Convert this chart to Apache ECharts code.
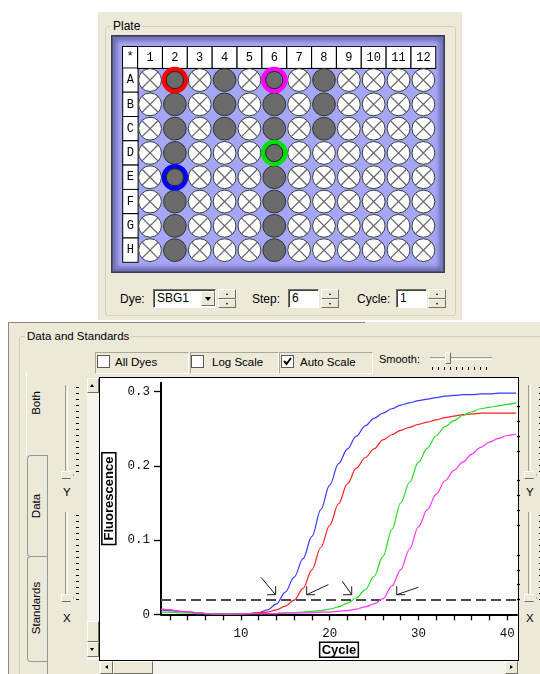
<!DOCTYPE html>
<html><head><meta charset="utf-8">
<script src="https://cdn.jsdelivr.net/npm/echarts@6/dist/echarts.min.js"></script>
<style>
html,body{margin:0;padding:0;width:540px;height:674px;overflow:hidden;background:#fff;font-family:"Liberation Sans",Arial,sans-serif;font-size:11.5px;color:#000;}
div{box-sizing:border-box;}
.a{position:absolute;}
.lbl{position:absolute;line-height:14px;white-space:nowrap;}
.btn{position:absolute;background:#ece9d8;border:1px solid;border-color:#fff #716f64 #716f64 #fff;}
.spin{position:absolute;width:18px;height:19px;}
.spin div{position:absolute;left:0;width:18px;height:9.5px;background:#ece9d8;border:1px solid;border-color:#fff #716f64 #716f64 #fff;}
.spin .u{top:0}.spin .d{top:9.5px}
.spin .u::after{content:"";position:absolute;left:6.5px;top:2.5px;border-left:1.5px solid transparent;border-right:1.5px solid transparent;border-bottom:2px solid #000;}
.spin .d::after{content:"";position:absolute;left:6.5px;top:3px;border-left:1.5px solid transparent;border-right:1.5px solid transparent;border-top:2px solid #000;}
.tri{position:absolute;width:0;height:0;border-left:2.5px solid transparent;border-right:2.5px solid transparent;}
.edit{position:absolute;height:19px;background:#fff;border:1px solid;border-color:#716f64 #fff #fff #716f64;box-shadow:inset 1px 1px 0 #404040;font-size:12px;line-height:17px;padding-left:3px;}
.cell{position:absolute;top:352px;height:22px;border:1px solid;border-color:#aca899 #fff #fff #aca899;}
.cb{position:absolute;top:355px;width:13px;height:13px;background:#fff;border:1px solid #5a5a5a;}
.vtab{position:absolute;transform:rotate(-90deg);transform-origin:center center;white-space:nowrap;font-size:11.5px;line-height:14px;}
.track{position:absolute;width:3px;border-left:1px solid #9d9d93;border-right:1px solid #fff;}
.ticksV{position:absolute;width:3px;background:repeating-linear-gradient(to bottom,#000 0 1px,transparent 1px 6px);}
.thumb{position:absolute;width:13px;height:8px;background:#ece9d8;border:1px solid;border-color:#fff #716f64 #716f64 #fff;clip-path:polygon(0 0,70% 0,100% 50%,70% 100%,0 100%);}
#chart{position:absolute;left:0;top:0;width:540px;height:674px;z-index:10;pointer-events:none;}
</style></head><body>
<!-- top plate panel -->
<div class="a" style="left:98px;top:12px;width:364px;height:308px;background:#ece9d8;"></div>
<div class="a" style="left:105px;top:26px;width:351px;height:290px;border:1px solid #d0d0bf;border-radius:3px;"></div>
<div class="lbl" style="left:111px;top:19px;padding:0 2px;background:#ece9d8;font-size:12px;">Plate</div>
<div class="a" style="left:111px;top:35px;width:334px;height:238px;background:#a6a6f6;border:1px solid #3b3b55;box-shadow:inset 0 0 0 1px #50507a,inset 0 0 4px 5px #7070b4;"></div>
<div class="a" style="left:122px;top:46px;width:16px;height:23px;background:#fff;border:1px solid #000;font-family:'Liberation Mono',monospace;font-size:12px;text-align:center;line-height:20px;">*</div>
<!-- plate controls -->
<div class="lbl" style="left:120px;top:292px;font-size:12px;">Dye:</div>
<div class="edit" style="left:153px;top:289px;width:63px;">SBG1</div>
<div class="btn" style="left:201px;top:291px;width:14px;height:15px;"><div class="tri" style="left:3px;top:5px;border-left-width:3.5px;border-right-width:3.5px;border-top:4px solid #000;"></div></div>
<div class="spin" style="left:218px;top:289px;"><div class="u"></div><div class="d"></div></div>
<div class="lbl" style="left:252px;top:292px;font-size:12px;">Step:</div>
<div class="edit" style="left:288px;top:289px;width:31px;">6</div>
<div class="spin" style="left:321px;top:289px;"><div class="u"></div><div class="d"></div></div>
<div class="lbl" style="left:357px;top:292px;font-size:12px;">Cycle:</div>
<div class="edit" style="left:396px;top:289px;width:31px;">1</div>
<div class="spin" style="left:428px;top:289px;"><div class="u"></div><div class="d"></div></div>

<!-- bottom data panel -->
<div class="a" style="left:8px;top:322px;width:532px;height:352px;background:#ece9d8;border-left:1px solid #8a8a80;"></div>
<div class="a" style="left:8px;top:322px;width:357px;height:1px;background:#8a8a80;"></div>
<div class="a" style="left:19px;top:336px;width:530px;height:350px;border:1px solid #d0d0bf;border-radius:3px;"></div>
<div class="lbl" style="left:25px;top:329px;padding:0 2px;background:#ece9d8;">Data and Standards</div>
<!-- check cells -->
<div class="cell" style="left:95px;width:94px;"></div>
<div class="cell" style="left:190px;width:89px;"></div>
<div class="cell" style="left:279px;width:94px;"></div>
<div class="cb" style="left:97px;"></div><div class="lbl" style="left:115px;top:355px;">All Dyes</div>
<div class="cb" style="left:191px;"></div><div class="lbl" style="left:212px;top:355px;">Log Scale</div>
<div class="cb" style="left:281px;"><svg width="11" height="11" style="position:absolute;left:0;top:0"><polyline points="2,5 4.5,8 9,2" fill="none" stroke="#000" stroke-width="2"/></svg></div><div class="lbl" style="left:300px;top:355px;">Auto Scale</div>
<div class="lbl" style="left:379px;top:352px;font-size:11px;">Smooth:</div>
<div class="a" style="left:430px;top:357px;width:62px;height:3px;border-top:1px solid #9d9d93;border-bottom:1px solid #fff;"></div>
<div class="a" style="left:445px;top:352px;width:6px;height:12px;background:#ece9d8;border:1px solid;border-color:#fff #716f64 #716f64 #fff;"></div>
<div class="a" style="left:432px;top:367px;width:60px;height:3px;background:repeating-linear-gradient(to right,#000 0 1px,transparent 1px 6px);"></div>

<!-- vertical tabs -->
<div class="a" style="left:26px;top:372px;width:22px;height:84px;border-left:1px solid #fff;"></div>
<div class="a" style="left:27px;top:455px;width:21px;height:102px;border:1px solid #919b9c;border-right:none;border-radius:4px 0 0 4px;"></div>
<div class="a" style="left:27px;top:556px;width:21px;height:106px;border:1px solid #919b9c;border-right:none;border-radius:4px 0 0 4px;"></div>
<div class="a" style="left:47px;top:455px;width:1px;height:219px;background:#919b9c;"></div>
<div class="vtab" style="left:21px;top:396px;width:30px;text-align:center;">Both</div>
<div class="vtab" style="left:16px;top:499px;width:40px;text-align:center;">Data</div>
<div class="vtab" style="left:2px;top:601px;width:68px;text-align:center;">Standards</div>

<!-- left sliders -->
<div class="track" style="left:65px;top:385px;height:91px;"></div>
<div class="ticksV" style="left:76px;top:387px;height:90px;"></div>
<div class="thumb" style="left:61px;top:471px;"></div>
<div class="lbl" style="left:63px;top:485px;">Y</div>
<div class="track" style="left:65px;top:512px;height:88px;"></div>
<div class="ticksV" style="left:76px;top:515px;height:87px;"></div>
<div class="thumb" style="left:61px;top:594px;"></div>
<div class="lbl" style="left:63px;top:611px;">X</div>
<!-- right sliders -->
<div class="track" style="left:528px;top:385px;height:91px;"></div>
<div class="ticksV" style="left:539px;top:387px;height:90px;"></div>
<div class="thumb" style="left:524px;top:471px;"></div>
<div class="lbl" style="left:526px;top:485px;">Y</div>
<div class="track" style="left:528px;top:512px;height:88px;"></div>
<div class="ticksV" style="left:539px;top:515px;height:87px;"></div>
<div class="thumb" style="left:524px;top:594px;"></div>
<div class="lbl" style="left:526px;top:611px;">X</div>

<!-- scrollbars -->
<div class="a" style="left:87px;top:378px;width:12px;height:282px;background:#f4f3ee;"></div>
<div class="btn" style="left:87px;top:378px;width:12px;height:15px;"><div class="tri" style="left:2px;top:5px;border-bottom:3px solid #000;"></div></div>
<div class="btn" style="left:87px;top:621px;width:12px;height:21px;"></div>
<div class="btn" style="left:87px;top:642px;width:12px;height:15px;"><div class="tri" style="left:2px;top:5px;border-top:3px solid #000;"></div></div>
<div class="a" style="left:99px;top:660px;width:420px;height:14px;background:#f4f3ee;"></div>
<div class="btn" style="left:100px;top:661px;width:13px;height:13px;"><div class="tri" style="left:4px;top:2.5px;border:2.5px solid transparent;border-right:3px solid #000;border-left:none;"></div></div>
<div class="btn" style="left:113px;top:661px;width:40px;height:13px;"></div>
<div class="btn" style="left:505px;top:661px;width:13px;height:13px;"><div class="tri" style="left:4px;top:2.5px;border:2.5px solid transparent;border-left:3px solid #000;border-right:none;"></div></div>

<!-- chart box -->
<div class="a" style="left:99px;top:377px;width:420px;height:284px;background:#fff;border:1px solid #000;"></div>

<div id="chart"></div>
<script>
// ---- plate data ----
const plateColumns = ['1','2','3','4','5','6','7','8','9','10','11','12'];
const plateRows = ['A','B','C','D','E','F','G','H'];
const usedWells = ['A2','B2','C2','D2','E2','F2','G2','H2',
                   'A4','B4','C4',
                   'A6','B6','C6','D6','E6','F6','G6','H6',
                   'A8','B8','C8'];
const highlightWells = ['A2','A6','D6','E2'];
const highlightColors = ['#ff0000','#ff00ff','#00e000','#0000ff'];

// ---- amplification data ----
const cycles = [1,2,3,4,5,6,7,8,9,10,11,12,13,14,15,16,17,18,19,20,21,22,23,24,25,26,27,28,29,30,31,32,33,34,35,36,37,38,39,40,41];
const blueValues = [0.006,0.005,0.004,0.003,0.002,0.001,0.001,0.0005,0.0005,0.001,0.001,0.002,0.006,0.014,0.030,0.050,0.075,0.105,0.141,0.174,0.203,0.223,0.240,0.254,0.264,0.271,0.277,0.282,0.285,0.288,0.290,0.292,0.294,0.295,0.296,0.296,0.297,0.297,0.298,0.298,0.298];
const redValues = [0.007,0.006,0.004,0.003,0.002,0.001,0.0005,0.0003,0.0003,0.0005,0.001,0.002,0.003,0.006,0.011,0.019,0.035,0.060,0.090,0.120,0.149,0.176,0.197,0.211,0.223,0.235,0.242,0.248,0.252,0.256,0.259,0.262,0.265,0.267,0.269,0.270,0.271,0.271,0.271,0.271,0.271];
const greenValues = [0.003,0.003,0.002,0.002,0.001,0.001,0.0005,0.0005,0.0005,0.0005,0.001,0.001,0.001,0.001,0.002,0.002,0.003,0.004,0.005,0.007,0.010,0.015,0.022,0.033,0.051,0.078,0.114,0.150,0.178,0.205,0.224,0.241,0.253,0.261,0.268,0.273,0.277,0.279,0.281,0.283,0.285];
const magentaValues = [0.007,0.006,0.004,0.003,0.002,0.001,0.0005,0.0003,0.0003,0.0005,0.001,0.001,0.001,0.001,0.002,0.002,0.002,0.002,0.003,0.003,0.004,0.005,0.007,0.010,0.014,0.021,0.038,0.060,0.088,0.118,0.141,0.162,0.180,0.194,0.205,0.216,0.225,0.232,0.237,0.241,0.243];
const seriesColors = ['#3a3aff','#ff2020','#22dd22','#ff33ff'];
const threshold = 0.02;
// arrows: [tailCycle, tailValue] -> [tipCycle, tipValue]
const arrowTails = [[12.25,0.050],[19.85,0.040],[21.42,0.0445],[29.99,0.0364]];
const arrowTips = [[13.91,0.0264],[17.41,0.0264],[22.48,0.0264],[27.55,0.0264]];
const xTickValues = [2,4,6,8,10,12,14,16,18,20,22,24,26,28,30,32,34,36,38,40];
const xLabelValues = [10,20,30,40];
const yLabelValues = [0,0.1,0.2,0.3];
const yMinorTickValues = [0.02,0.04,0.06,0.08,0.12,0.14,0.16,0.18,0.22,0.24,0.26,0.28];

// ---- build ----
const wellData = [];
plateRows.forEach((r, ri) => plateColumns.forEach((c, ci) => {
  wellData.push([ci, ri, usedWells.indexOf(r + c) >= 0 ? 1 : 0]);
}));
const ringData = highlightWells.map((w, i) => [plateColumns.indexOf(w.slice(1)), plateRows.indexOf(w[0]), i]);

function renderWell(params, api) {
  const p = api.coord([api.value(0), api.value(1)]);
  const r = 11.4;
  if (api.value(2)) {
    return {type:'circle', shape:{cx:p[0], cy:p[1], r:r}, style:{fill:'#6b6b6b', stroke:'#333', lineWidth:1}};
  }
  const d = r * 0.72;
  return {type:'group', children:[
    {type:'circle', shape:{cx:p[0], cy:p[1], r:r}, style:{fill:'#fff', stroke:'#3a3a3a', lineWidth:1}},
    {type:'line', shape:{x1:p[0]-d, y1:p[1]-d, x2:p[0]+d, y2:p[1]+d}, style:{stroke:'#6a6a6a', lineWidth:1.3}},
    {type:'line', shape:{x1:p[0]-d, y1:p[1]+d, x2:p[0]+d, y2:p[1]-d}, style:{stroke:'#6a6a6a', lineWidth:1.3}}
  ]};
}
function renderRing(params, api) {
  const p = api.coord([api.value(0), api.value(1)]);
  const col = highlightColors[api.value(2)];
  return {type:'group', children:[
    {type:'circle', shape:{cx:p[0], cy:p[1], r:11}, style:{fill:'none', stroke:col, lineWidth:4.6}},
    {type:'circle', shape:{cx:p[0], cy:p[1], r:8.6}, style:{fill:'none', stroke:'#222', lineWidth:1}}
  ]};
}
function renderArrow(params, api) {
  const t = api.coord([api.value(0), api.value(1)]);
  const h = api.coord([api.value(2), api.value(3)]);
  const dir = t[0] < h[0] ? -1 : 1;
  const s = {stroke:'#1a1a1a', lineWidth:1};
  return {type:'group', children:[
    {type:'line', shape:{x1:t[0], y1:t[1], x2:h[0], y2:h[1]}, style:s},
    {type:'line', shape:{x1:h[0], y1:h[1], x2:h[0], y2:h[1]-8.5}, style:s},
    {type:'line', shape:{x1:h[0], y1:h[1], x2:h[0]+dir*8.5, y2:h[1]}, style:s}
  ]};
}
const arrowData = arrowTails.map((t, i) => [t[0], t[1], arrowTips[i][0], arrowTips[i][1]]);

const monoFont = "'Liberation Mono','Courier New',monospace";
const curveNames = ['E2','A2','D6','A6'];
const curveValues = [blueValues, redValues, greenValues, magentaValues];

const lineSeries = curveValues.map((vals, i) => ({
  type:'line', name:curveNames[i], xAxisIndex:1, yAxisIndex:1,
  data: cycles.map((c, k) => [c, vals[k]]),
  showSymbol:false, smooth:0.35, smoothMonotone:'x',
  lineStyle:{color:seriesColors[i], width:1.2}, z:3,
  markLine: i === 0 ? {silent:true, symbol:['none','none'], label:{show:false},
    lineStyle:{type:[10,5], color:'#4a4a4a', width:2}, data:[{yAxis:threshold}], z:2} : undefined
}));

const chart = echarts.init(document.getElementById('chart'), null, {width:540, height:674});
chart.setOption({
  animation:false,
  backgroundColor:'transparent',
  grid:[
    {left:137.6, top:67.9, width:298.2, height:194.4},
    {left:161, top:382.8, width:356, height:231.5}
  ],
  xAxis:[
    {gridIndex:0, type:'category', data:plateColumns, position:'top',
     axisLine:{show:false}, axisTick:{show:false}, splitLine:{show:false},
     axisLabel:{interval:0, margin:0, formatter:v => '{c|' + v + '}',
       rich:{c:{width:23.7, height:21, lineHeight:21, align:'center', fontFamily:monoFont, fontSize:12, color:'#000',
         backgroundColor:'#fff', borderColor:'#000', borderWidth:1}}}},
    {gridIndex:1, type:'value', min:1, max:41.1,
     axisLine:{onZero:false, lineStyle:{color:'#000', width:2}},
     axisTick:{customValues:xTickValues, length:6, lineStyle:{color:'#000', width:1.3}},
     axisLabel:{customValues:xLabelValues, margin:13, fontFamily:monoFont, fontSize:12.5, color:'#111'},
     splitLine:{show:false},
     name:'Cycle', nameLocation:'middle', nameGap:28,
     nameTextStyle:{fontFamily:"'Liberation Sans',Arial,sans-serif", fontWeight:'bold', fontSize:13, color:'#000',
       borderColor:'#000', borderWidth:1.5, padding:[2,2,0,2]}}
  ],
  yAxis:[
    {gridIndex:0, type:'category', data:plateRows, inverse:true,
     axisLine:{show:false}, axisTick:{show:false}, splitLine:{show:false},
     axisLabel:{interval:0, margin:0, formatter:v => '{r|' + v + '}',
       rich:{r:{width:14.4, height:23.3, lineHeight:23.3, align:'center', fontFamily:monoFont, fontSize:12, color:'#000',
         backgroundColor:'#fff', borderColor:'#000', borderWidth:1}}}},
    {gridIndex:1, type:'value', min:0, max:0.312,
     axisLine:{onZero:false, lineStyle:{color:'#000', width:2}},
     axisTick:{customValues:yLabelValues, length:7, lineStyle:{color:'#000', width:1.3}},
     axisLabel:{customValues:yLabelValues, margin:11, fontFamily:monoFont, fontSize:12.5, color:'#111',
       formatter:v => String(Math.round(v*10)/10)},
     splitLine:{show:false},
     name:'Fluorescence', nameLocation:'middle', nameGap:36,
     nameTextStyle:{fontFamily:"'Liberation Sans',Arial,sans-serif", fontWeight:'bold', fontSize:13, color:'#000',
       borderColor:'#000', borderWidth:1.5, padding:[1,4,0,4]}},
    {gridIndex:1, type:'value', min:0, max:0.312,
     axisLine:{show:false},
     axisTick:{customValues:yMinorTickValues, length:3, lineStyle:{color:'#000', width:1.3}},
     axisLabel:{show:false}, splitLine:{show:false}}
  ],
  series:[
    {type:'custom', xAxisIndex:0, yAxisIndex:0, renderItem:renderWell, data:wellData, encode:{x:0, y:1}, z:2},
    {type:'custom', xAxisIndex:0, yAxisIndex:0, renderItem:renderRing, data:ringData, encode:{x:0, y:1}, z:3},
    ...lineSeries,
    {type:'custom', xAxisIndex:1, yAxisIndex:1, renderItem:renderArrow, data:arrowData, encode:{x:[0,2], y:[1,3]}, z:4, clip:false}
  ]
});
</script>
</body></html>
